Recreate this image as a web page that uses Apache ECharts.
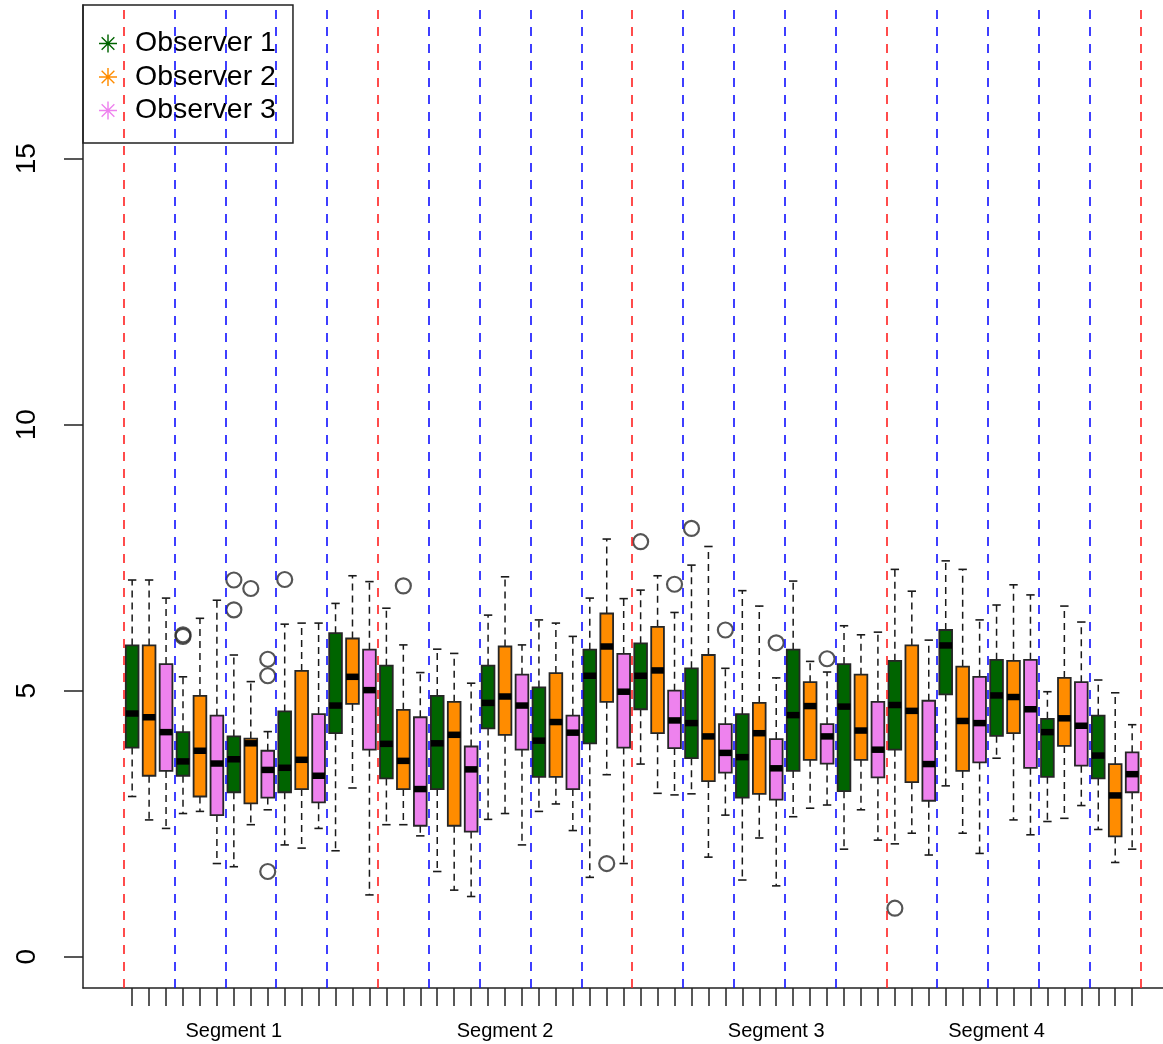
<!DOCTYPE html>
<html><head><meta charset="utf-8">
<script src="https://cdn.jsdelivr.net/npm/echarts@6/dist/echarts.min.js"></script>
<style>html,body{margin:0;padding:0;background:#fff}#c{width:1163px;height:1044px}</style>
</head><body><div id="c"></div>
<script>
const observers = ['Observer 1', 'Observer 2', 'Observer 3'];
const observerColors = ['#006400', '#FF8C00', '#EE82EE'];
const segmentLabels = ['Segment 1', 'Segment 2', 'Segment 3', 'Segment 4'];
const segmentLabelAt = [7, 23, 39, 52];
const yTicks = [0, 5, 10, 15];
const boxTicks = [1,2,3,4,5,6,7,8,9,10,11,12,13,14,15,16,17,18,19,20,21,22,23,24,25,26,27,28,29,30,
                  31,32,33,34,35,36,37,38,39,40,41,42,43,44,45,46,47,48,49,50,51,52,53,54,55,56,57,58,59,60];
const redLines = [0.5, 15.5, 30.5, 45.5, 60.5];
const blueLines = [3.5, 6.5, 9.5, 12.5, 18.5, 21.5, 24.5, 27.5, 33.5, 36.5, 39.5, 42.5, 48.5, 51.5, 54.5, 57.5];

// each row: [lower whisker, Q1, median, Q3, upper whisker] for the 20 groups
const observer1Boxes = [
  [3.01, 3.93, 4.57, 5.85, 7.08], [2.69, 3.40, 3.67, 4.22, 5.26], [1.69, 3.09, 3.71, 4.14, 5.67],
  [2.10, 3.09, 3.55, 4.61, 6.25], [1.99, 4.20, 4.72, 6.08, 6.64], [2.48, 3.35, 4.00, 5.47, 6.55],
  [1.60, 3.15, 4.01, 4.90, 5.78], [2.58, 4.29, 4.77, 5.47, 6.42], [2.73, 3.38, 4.06, 5.06, 6.33],
  [1.49, 4.01, 5.28, 5.77, 6.74], [3.62, 4.65, 5.28, 5.89, 6.89], [3.06, 3.73, 4.39, 5.42, 7.36],
  [1.44, 2.99, 3.75, 4.56, 6.88], [2.63, 3.49, 4.54, 5.77, 7.06], [2.02, 3.11, 4.70, 5.50, 6.22],
  [2.12, 3.89, 4.73, 5.56, 7.28], [3.21, 4.93, 5.85, 6.14, 7.44], [3.73, 4.15, 4.91, 5.58, 6.61],
  [2.54, 3.38, 4.22, 4.47, 4.98], [2.39, 3.35, 3.78, 4.53, 5.20]
];
const observer2Boxes = [
  [2.57, 3.40, 4.50, 5.85, 7.08], [2.73, 3.01, 3.87, 4.90, 6.36], [2.48, 2.88, 4.01, 4.10, 5.17],
  [2.04, 3.15, 3.70, 5.37, 6.27], [3.17, 4.75, 5.26, 5.98, 7.16], [2.48, 3.15, 3.68, 4.64, 5.86],
  [1.25, 2.46, 4.17, 4.79, 5.70], [2.69, 4.17, 4.89, 5.83, 7.14], [2.87, 3.38, 4.41, 5.33, 6.27],
  [3.42, 4.79, 5.83, 6.45, 7.85], [3.07, 4.20, 5.38, 6.20, 7.16], [1.87, 3.30, 4.14, 5.67, 7.71],
  [2.23, 3.06, 4.20, 4.77, 6.59], [2.79, 3.70, 4.71, 5.16, 5.55], [2.76, 3.70, 4.25, 5.30, 6.05],
  [2.32, 3.28, 4.62, 5.85, 6.87], [2.32, 3.49, 4.43, 5.45, 7.28], [2.57, 4.20, 4.88, 5.56, 6.99],
  [2.60, 3.96, 4.48, 5.24, 6.59], [1.77, 2.26, 3.03, 3.62, 4.96]
];
const observer3Boxes = [
  [2.41, 3.49, 4.22, 5.50, 6.74], [1.75, 2.66, 3.63, 4.53, 6.70], [2.76, 2.99, 3.51, 3.87, 4.23],
  [2.41, 2.90, 3.40, 4.56, 6.27], [1.16, 3.89, 5.01, 5.77, 7.05], [2.27, 2.46, 3.15, 4.50, 5.34],
  [1.13, 2.35, 3.52, 3.95, 5.14], [2.10, 3.89, 4.72, 5.30, 5.86], [2.37, 3.15, 4.21, 4.53, 6.02],
  [1.75, 3.93, 4.98, 5.69, 6.73], [3.04, 3.92, 4.44, 5.00, 6.47], [2.66, 3.46, 3.83, 4.37, 5.42],
  [1.33, 2.95, 3.54, 4.09, 5.24], [2.85, 3.63, 4.14, 4.37, 5.35], [2.19, 3.37, 3.89, 4.79, 6.10],
  [1.91, 2.93, 3.62, 4.81, 5.95], [1.94, 3.65, 4.39, 5.26, 6.33], [2.29, 3.55, 4.65, 5.58, 6.80],
  [2.84, 3.59, 4.34, 5.16, 6.29], [2.02, 3.09, 3.43, 3.84, 4.36]
];
// outliers: box number (1..60) and value
const outlierBox   = [4, 4, 7, 7, 8, 9, 9, 9, 10, 17, 29, 31, 33, 34, 36, 39, 42, 46];
const outlierValue = [6.02, 6.05, 7.08, 6.52, 6.92, 5.59, 5.28, 1.60, 7.09, 6.97, 1.75, 7.80, 7.00, 8.05, 6.14, 5.90, 5.60, 0.91];

const FONT = '"Liberation Sans", Arial, Helvetica, sans-serif';
const starPath = 'path://M46,0L54,0L54,100L46,100Z M0,46L100,46L100,54L0,54Z M17.4,12L88,82.6L82.6,88L12,17.4Z M82.6,12L88,17.4L17.4,88L12,82.6Z';

function toSeriesData(boxes, k) {
  return boxes.map((b, g) => [3 * g + k + 1, b[0], b[1], b[2], b[3], b[4]]);
}

function renderBox(params, api) {
  const x = api.value(0);
  const pLo = api.coord([x, api.value(1)]);
  const pQ1 = api.coord([x, api.value(2)]);
  const pMd = api.coord([x, api.value(3)]);
  const pQ3 = api.coord([x, api.value(4)]);
  const pHi = api.coord([x, api.value(5)]);
  const hw = api.size([0.75, 0])[0] / 2;
  const cw = hw * 0.66;
  const cx = pMd[0];
  const color = api.visual('color');
  const dash = { stroke: '#1a1a1a', lineWidth: 1.5, lineDash: [7, 5], fill: null };
  const solid = { stroke: '#1a1a1a', lineWidth: 1.6, fill: null };
  return {
    type: 'group',
    children: [
      { type: 'line', shape: { x1: cx, y1: pQ3[1], x2: cx, y2: pHi[1] }, style: dash },
      { type: 'line', shape: { x1: cx, y1: pQ1[1], x2: cx, y2: pLo[1] }, style: dash },
      { type: 'line', shape: { x1: cx - cw, y1: pHi[1], x2: cx + cw, y2: pHi[1] }, style: solid },
      { type: 'line', shape: { x1: cx - cw, y1: pLo[1], x2: cx + cw, y2: pLo[1] }, style: solid },
      { type: 'rect', shape: { x: cx - hw, y: pQ3[1], width: 2 * hw, height: pQ1[1] - pQ3[1] },
        style: { fill: color, stroke: '#262626', lineWidth: 1.8 } },
      { type: 'rect', shape: { x: cx - hw, y: pMd[1] - 3.25, width: 2 * hw, height: 6.5 }, style: { fill: '#000' } }
    ]
  };
}

const allBoxes = [observer1Boxes, observer2Boxes, observer3Boxes];
const series = observers.map((name, k) => ({
  name: name,
  type: 'custom',
  renderItem: renderBox,
  itemStyle: { color: observerColors[k] },
  encode: { x: 0, y: [1, 2, 3, 4, 5] },
  data: toSeriesData(allBoxes[k], k),
  z: 2
}));

const markLineData = redLines.map(v => ({ xAxis: v, lineStyle: { color: '#FF2020' } }))
  .concat(blueLines.map(v => ({ xAxis: v, lineStyle: { color: '#1010FF' } })));

series.push({
  name: 'outliers',
  type: 'scatter',
  symbol: 'circle',
  symbolSize: 15,
  itemStyle: { color: 'rgba(0,0,0,0)', borderColor: '#2a2a2a', borderWidth: 2.2 },
  data: outlierBox.map((b, i) => [b, outlierValue[i]]),
  z: 3,
  silent: true,
  markLine: {
    silent: true,
    symbol: 'none',
    label: { show: false },
    lineStyle: { type: [9, 8], width: 1.6 },
    data: markLineData,
    z: 4
  }
});

const chart = echarts.init(document.getElementById('c'), null, { renderer: 'canvas' });
chart.setOption({
  animation: false,
  backgroundColor: '#fff',
  grid: { left: 83, right: 0, top: 5, bottom: 56, containLabel: false },
  legend: {
    data: observers.map(n => ({ name: n, icon: starPath })),
    orient: 'vertical',
    left: 83, top: 5,
    itemWidth: 18, itemHeight: 18, itemGap: 4.5,
    padding: [24, 17, 18, 16],
    borderColor: '#222', borderWidth: 1.5,
    selectedMode: false,
    textStyle: { fontSize: 28.5, lineHeight: 28, color: '#000', fontFamily: FONT, padding: [0, 0, 0, 13] }
  },
  xAxis: {
    type: 'value', min: -1.9, max: 61.82,
    axisLine: { show: true, onZero: false, lineStyle: { color: '#222', width: 1.5 } },
    axisTick: { show: true, length: 18, customValues: boxTicks, lineStyle: { color: '#222', width: 1.5 } },
    axisLabel: {
      customValues: segmentLabelAt,
      formatter: v => segmentLabels[segmentLabelAt.indexOf(v)] || '',
      fontSize: 20, margin: 33, color: '#000', fontFamily: FONT
    },
    splitLine: { show: false }
  },
  yAxis: {
    type: 'value', min: -0.59, max: 17.89,
    axisLine: { show: true, onZero: false, lineStyle: { color: '#222', width: 1.5 } },
    axisTick: { show: true, length: 19, customValues: yTicks, lineStyle: { color: '#222', width: 1.5 } },
    axisLabel: { customValues: yTicks, rotate: 90, fontSize: 28, margin: 42, color: '#000', fontFamily: FONT },
    splitLine: { show: false }
  },
  series: series
});
</script>
</body></html>
